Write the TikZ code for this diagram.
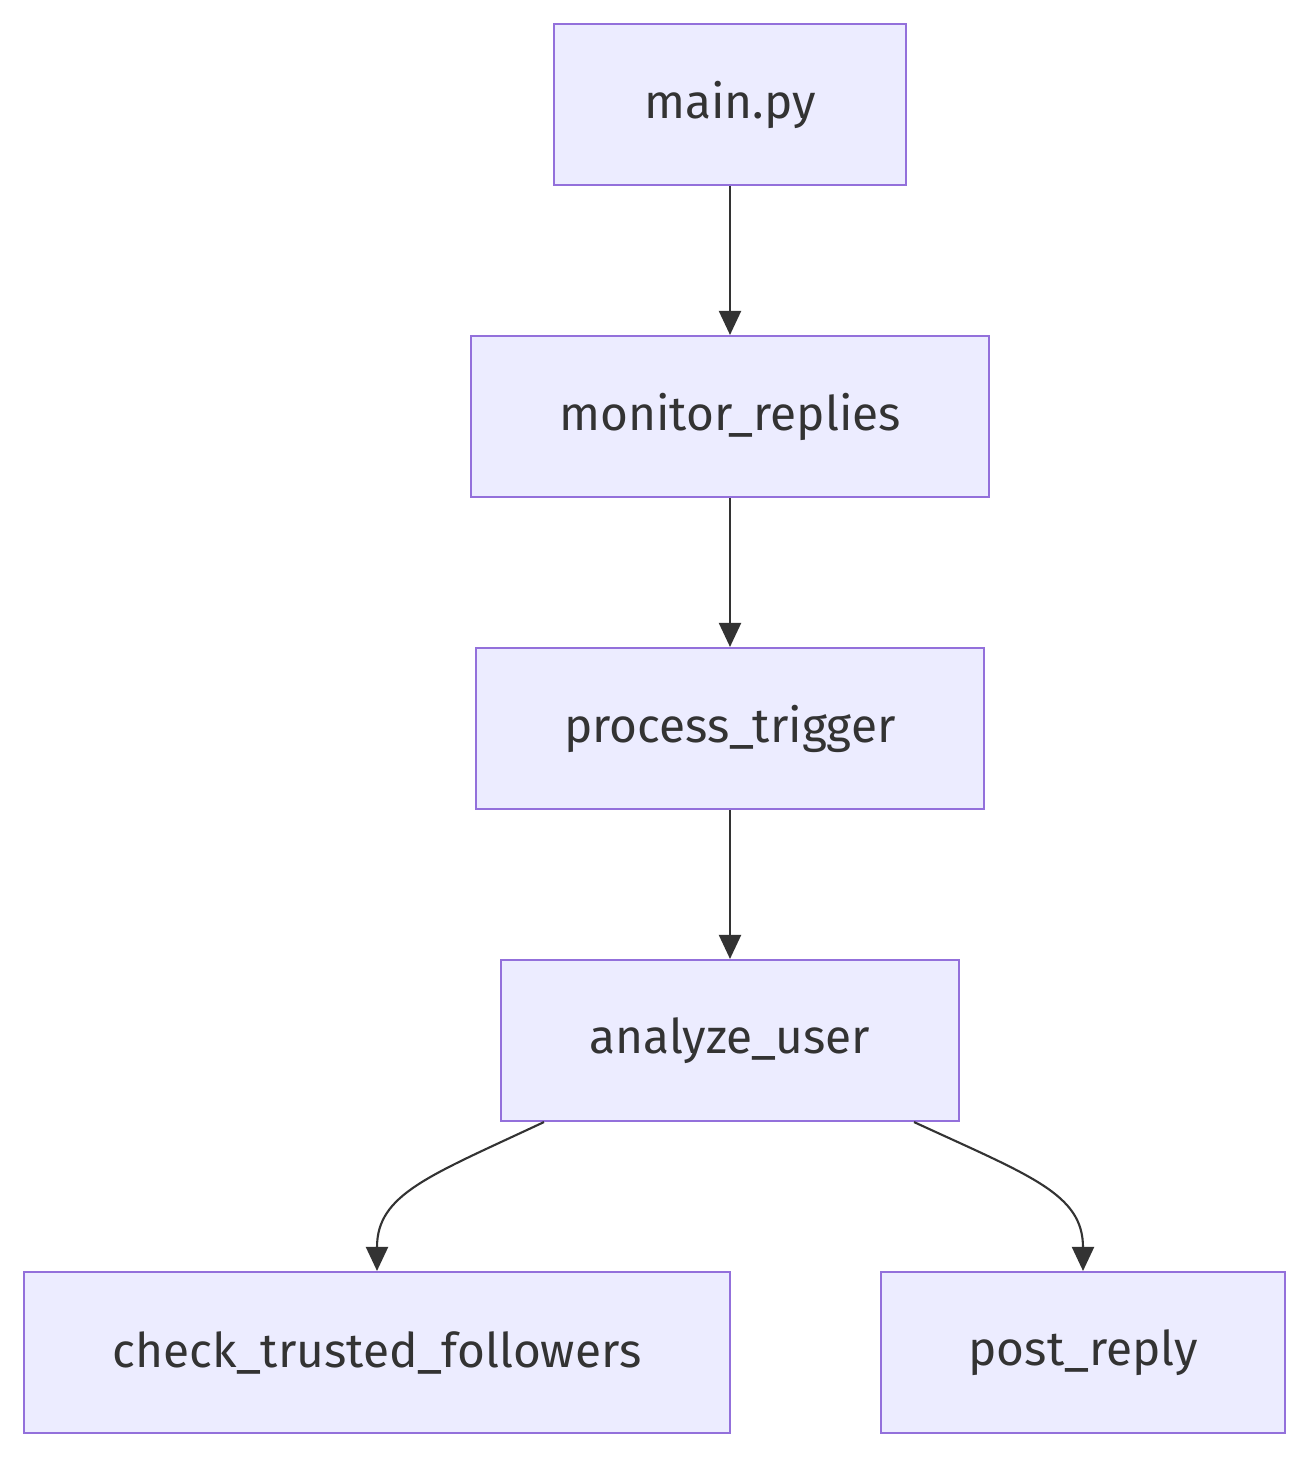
\documentclass[tikz,border=0pt]{standalone}
\usepackage{fontspec}
\setsansfont{Fira Sans}
\usepackage{tikz}
\usetikzlibrary{arrows.meta, positioning}
\definecolor{boxfill}{HTML}{ECECFF}
\definecolor{boxline}{HTML}{9370DB}
\definecolor{ink}{HTML}{333333}

\begin{document}
\begin{tikzpicture}[font=\sffamily\fontsize{27.2}{32}\selectfont,
    fn/.style={draw=boxline, fill=boxfill, line width=1.2pt, text=ink,
               minimum height=3.22cm, inner sep=0pt},
    edge/.style={draw=ink, line width=1.2pt,
                 -{Triangle[length=0.48cm, width=0.44cm]}}]
  \useasboundingbox (0,0) rectangle (26.2,-29.16);
  % call chain
  \node[fn, minimum width=7.04cm]  (main)    at (14.6,-2.09)  {main.py};
  \node[fn, minimum width=10.36cm] (monitor) at (14.6,-8.33)  {monitor\_replies};
  \node[fn, minimum width=10.16cm] (process) at (14.6,-14.57) {process\_trigger};
  \node[fn, minimum width=9.16cm]  (analyze) at (14.6,-20.81) {analyze\_user};
  \node[fn, minimum width=14.12cm] (trusted) at (7.54,-27.05) {check\_trusted\_followers};
  \node[fn, minimum width=8.08cm]  (post)    at (21.66,-27.05) {post\_reply};
  % straight calls
  \draw[edge] (main) -- (monitor);
  \draw[edge] (monitor) -- (process);
  \draw[edge] (process) -- (analyze);
  % branches
  \draw[edge] ([xshift=0.88cm]analyze.south west) .. controls +(-2.3,-1.08)
    and +(0,1.54) .. (trusted.north);
  \draw[edge] ([xshift=-0.92cm]analyze.south east) .. controls +(2.34,-1.08)
    and +(0,1.54) .. (post.north);
\end{tikzpicture}
\end{document}
